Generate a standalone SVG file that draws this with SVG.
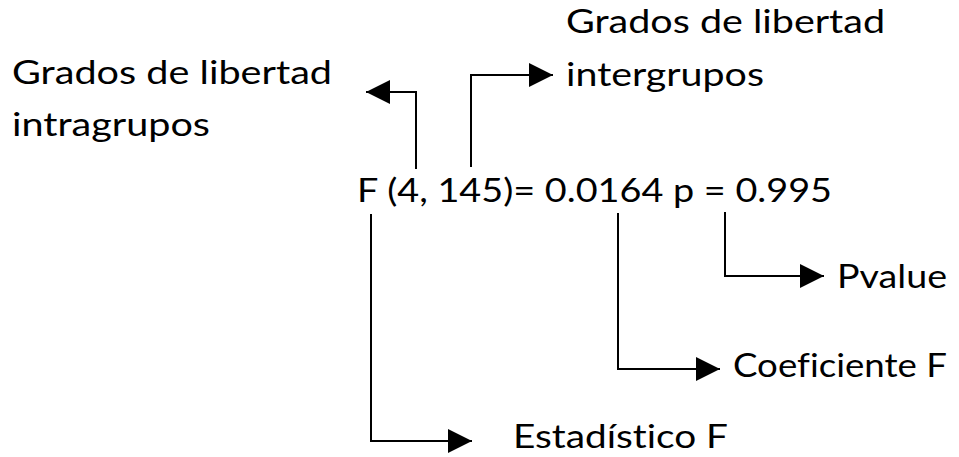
<svg xmlns="http://www.w3.org/2000/svg" width="959" height="457" viewBox="0 0 959 457">
  <style>
    .lbl { font-family: Lato, "Open Sans", "Liberation Sans", sans-serif; font-size: 32px; fill: #000; font-variant-ligatures: none; }
    .conn { fill: none; stroke: #000; stroke-width: 2; }
  </style>
  <defs>
    <marker id="head" markerUnits="userSpaceOnUse" markerWidth="24" markerHeight="24" viewBox="0 0 22 22" refX="22" refY="11" orient="auto">
      <path d="M0,0 L22,11 L0,22 Z" fill="#000"/>
    </marker>
  </defs>
  <rect width="959" height="457" fill="#fff"/>

  <g id="formula">
    <text class="lbl" x="357" y="202" textLength="475" lengthAdjust="spacingAndGlyphs">F (4, 145)= 0.0164 p = 0.995</text>
  </g>

  <g id="gl-intra">
    <text class="lbl" x="12" y="84" textLength="320" lengthAdjust="spacingAndGlyphs">Grados de libertad</text>
    <text class="lbl" x="12" y="136" textLength="198" lengthAdjust="spacingAndGlyphs">intragrupos</text>
  </g>

  <g id="gl-inter">
    <text class="lbl" x="566" y="33" textLength="319" lengthAdjust="spacingAndGlyphs">Grados de libertad</text>
    <text class="lbl" x="566" y="86" textLength="198" lengthAdjust="spacingAndGlyphs">intergrupos</text>
  </g>

  <g id="pvalue">
    <text class="lbl" x="837" y="288" textLength="110" lengthAdjust="spacingAndGlyphs">Pvalue</text>
  </g>

  <g id="coeficiente">
    <text class="lbl" x="733" y="377" textLength="214" lengthAdjust="spacingAndGlyphs">Coeficiente F</text>
  </g>

  <g id="estadistico">
    <text class="lbl" x="513" y="448" textLength="215" lengthAdjust="spacingAndGlyphs">Estadístico F</text>
  </g>

  <g id="connectors">
    <path class="conn" d="M416,169 V92 H366" marker-end="url(#head)"/>
    <path class="conn" d="M471,167 V75 H553" marker-end="url(#head)"/>
    <path class="conn" d="M371,214 V441 H472" marker-end="url(#head)"/>
    <path class="conn" d="M618,213 V369 H720" marker-end="url(#head)"/>
    <path class="conn" d="M725,212 V276 H824" marker-end="url(#head)"/>
  </g>
</svg>
